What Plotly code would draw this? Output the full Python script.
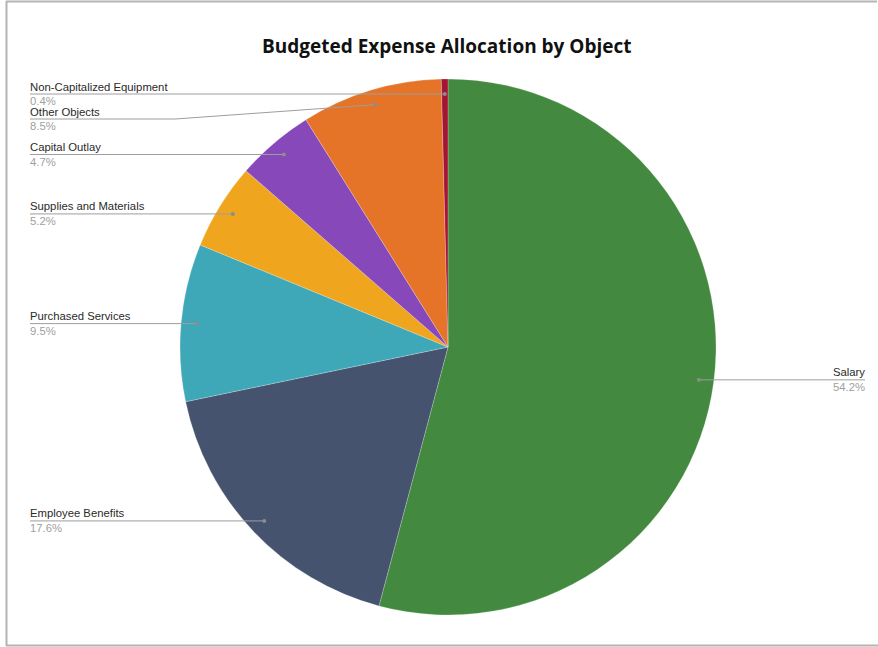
import math
import plotly.graph_objects as go

# Budget categories and their share of total budgeted expense (%)
categories = [
    "Salary",
    "Employee Benefits",
    "Purchased Services",
    "Supplies and Materials",
    "Capital Outlay",
    "Other Objects",
    "Non-Capitalized Equipment",
]
shares = [54.2, 17.6, 9.5, 5.2, 4.7, 8.5, 0.4]
colors = ["#43893f", "#46536f", "#3fa8b8", "#efa51d", "#8748ba", "#e57428", "#a31633"]

W, H = 878, 647
CX, CY, R = 448, 347, 268          # pie centre and radius in pixels
DOT_R = R - 15                     # where leader lines meet the slices
LEFT_X, RIGHT_X = 30, 865          # label columns
BEND_X = 175                       # elbow for leader lines that had to move
MIN_GAP = 25                       # vertical spacing between stacked labels


def px(x):
    return x / W


def py(y):
    return 1 - y / H


fig = go.Figure(
    go.Pie(
        labels=categories,
        values=shares,
        sort=False,
        direction="clockwise",
        rotation=0,
        marker=dict(colors=colors, line=dict(color="rgba(255,255,255,0.45)", width=0.5)),
        textinfo="none",
        hovertemplate="%{label}<br>%{value}%<extra></extra>",
        domain=dict(x=[px(CX - R), px(CX + R)], y=[py(CY + R), py(CY - R)]),
        showlegend=False,
    )
)

# leader anchor points at each slice's mid-angle (clockwise from 12 o'clock)
total = sum(shares)
anchors = []
cum = 0.0
for name, v in zip(categories, shares):
    mid = (cum + v / 2) / total * 2 * math.pi
    cum += v
    anchors.append((name, v, CX + DOT_R * math.sin(mid), CY - DOT_R * math.cos(mid)))

shapes = []
annotations = []

# left-hand labels, stacked top to bottom without overlap
left = sorted([a for a in anchors if a[2] < CX], key=lambda a: a[3])
right = [a for a in anchors if a[2] >= CX]
last_y = -1e9
placed = []
for name, v, dx, dy in left:
    ly = max(dy, last_y + MIN_GAP)
    last_y = ly
    placed.append((name, v, dx, dy, ly, "left"))
for name, v, dx, dy in right:
    placed.append((name, v, dx, dy, dy, "right"))

line_style = dict(color="#9e9e9e", width=1)
label_font = "Liberation Sans, Arial"
for name, v, dx, dy, ly, side in placed:
    if side == "left":
        if abs(ly - dy) < 0.5:
            shapes.append(dict(type="line", xref="paper", yref="paper",
                               x0=px(LEFT_X), y0=py(ly), x1=px(dx), y1=py(dy), line=line_style))
        else:
            shapes.append(dict(type="line", xref="paper", yref="paper",
                               x0=px(LEFT_X), y0=py(ly), x1=px(BEND_X), y1=py(ly), line=line_style))
            shapes.append(dict(type="line", xref="paper", yref="paper",
                               x0=px(BEND_X), y0=py(ly), x1=px(dx), y1=py(dy), line=line_style))
        tx, anchor = LEFT_X - 1, "left"
    else:
        shapes.append(dict(type="line", xref="paper", yref="paper",
                           x0=px(dx), y0=py(dy), x1=px(RIGHT_X), y1=py(ly), line=line_style))
        tx, anchor = RIGHT_X + 1, "right"
    shapes.append(dict(type="circle", xref="paper", yref="paper",
                       x0=px(dx - 2), x1=px(dx + 2), y0=py(dy + 2), y1=py(dy - 2),
                       fillcolor="#8c8c8c", line=dict(width=0)))
    annotations.append(dict(x=px(tx), y=py(ly - 7.5), xref="paper", yref="paper",
                            text=name, showarrow=False, xanchor=anchor, yanchor="middle",
                            borderpad=0,
                            font=dict(family=label_font, size=11.3, color="#2a2a2a")))
    annotations.append(dict(x=px(tx), y=py(ly + 7), xref="paper", yref="paper",
                            text=f"{v:.1f}%", showarrow=False, xanchor=anchor, yanchor="middle",
                            borderpad=0,
                            font=dict(family=label_font, size=11.3, color="#a0a0a0")))

# title
annotations.append(dict(x=px(447), y=py(46), xref="paper", yref="paper",
                        text="<b>Budgeted Expense Allocation by Object</b>", showarrow=False,
                        xanchor="center", yanchor="middle",
                        font=dict(family="Open Sans, Lato, sans-serif", size=19, color="#111111")))

# chart frame (top, left and bottom edges)
frame = dict(color="#b4b4b4", width=2)
shapes.append(dict(type="line", xref="paper", yref="paper",
                   x0=px(6), y0=py(1.5), x1=px(877), y1=py(1.5), line=frame))
shapes.append(dict(type="line", xref="paper", yref="paper",
                   x0=px(6.5), y0=py(1), x1=px(6.5), y1=py(646), line=frame))
shapes.append(dict(type="line", xref="paper", yref="paper",
                   x0=px(6), y0=py(645.5), x1=px(878), y1=py(645.5), line=frame))

fig.update_layout(
    width=W, height=H,
    margin=dict(l=0, r=0, t=0, b=0, autoexpand=False),
    paper_bgcolor="white",
    plot_bgcolor="white",
    shapes=shapes,
    annotations=annotations,
)

fig.write_html("out.html")
